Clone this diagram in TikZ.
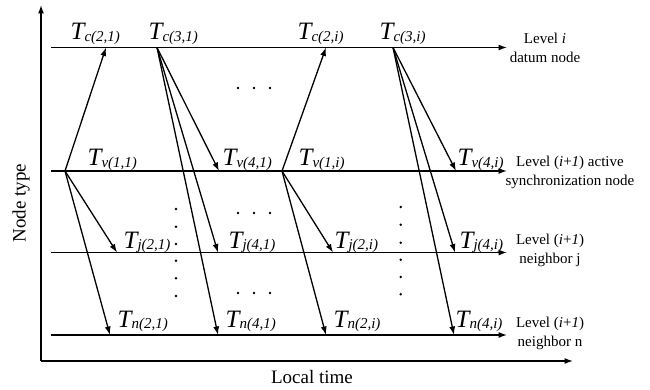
\documentclass[tikz,border=0pt]{standalone}
\usepackage{fontspec}
\setmainfont{Liberation Serif}
\usetikzlibrary{arrows.meta}
\newcommand{\Tlab}[2]{{\fontsize{25}{25}\selectfont\itshape T}\raisebox{-1.5pt}{\fontsize{15}{15}\selectfont\itshape #1(#2)}}
\tikzset{
  tl/.style={->},
  msg/.style={->},
  tlabel/.style={anchor=base west, inner sep=0pt},
  lvl/.style={align=center, inner sep=0pt, font=\fontsize{15}{19}\selectfont},
}
\begin{document}
\begin{tikzpicture}[x=1pt,y=-1pt,line width=1.3pt,>={Latex[length=8.5pt,width=6pt]}]
\useasboundingbox (0,0) rectangle (650,390);
% axes
\coordinate (O) at (41,361);
\coordinate (Ytop) at (41,5);
\coordinate (Xend) at (573,361);
\draw[->] (O) -- (Ytop);
\draw[->] (O) -- (Xend);
\node[rotate=90, font=\fontsize{19}{19}\selectfont] (ylab) at (21,203) {Node type};
\node[font=\fontsize{19}{19}\selectfont] (xlab) at (312,377) {Local time};
% time lines
\coordinate (L1s) at (51,47.5);  \coordinate (L1e) at (507,47.5);
\coordinate (L2s) at (51,171);   \coordinate (L2e) at (507,171);
\coordinate (L3s) at (51,252.5); \coordinate (L3e) at (507,252.5);
\coordinate (L4s) at (51,335);   \coordinate (L4e) at (507,335);
\draw[tl] (L1s) -- (L1e);
\draw[tl] (L2s) -- (L2e);
\draw[tl] (L3s) -- (L3e);
\draw[tl] (L4s) -- (L4e);
% events
\coordinate (c21) at (106,47.5);
\coordinate (c31) at (157,47.5);
\coordinate (v11) at (65,171);
\coordinate (v41) at (219,171);
\coordinate (j21) at (117,252.5);
\coordinate (n21) at (110,335);
\coordinate (j41) at (218,252.5);
\coordinate (n41) at (218,335);
\coordinate (c2i) at (326,47.5);
\coordinate (c3i) at (393,47.5);
\coordinate (v1i) at (282,171);
\coordinate (v4i) at (456,171);
\coordinate (j2i) at (333,252.5);
\coordinate (n2i) at (326,335);
\coordinate (j4i) at (455,252.5);
\coordinate (n4i) at (454,335);
% messages
\draw[msg] (v11) -- (c21);
\draw[msg] (v11) -- (j21);
\draw[msg] (v11) -- (n21);
\draw[msg] (c31) -- (v41);
\draw[msg] (c31) -- (j41);
\draw[msg] (c31) -- (n41);
\draw[msg] (v1i) -- (c2i);
\draw[msg] (v1i) -- (j2i);
\draw[msg] (v1i) -- (n2i);
\draw[msg] (c3i) -- (v4i);
\draw[msg] (c3i) -- (j4i);
\draw[msg] (c3i) -- (n4i);
% labels
\node[tlabel] (tc21) at (70,40) {\Tlab{c}{2,1}};
\node[tlabel] (tc31) at (148,40) {\Tlab{c}{3,1}};
\node[tlabel] (tc2i) at (297,40) {\Tlab{c}{2,i}};
\node[tlabel] (tc3i) at (379,40) {\Tlab{c}{3,i}};
\node[tlabel] (tv11) at (87,166) {\Tlab{v}{1,1}};
\node[tlabel] (tv41) at (222,166) {\Tlab{v}{4,1}};
\node[tlabel] (tv1i) at (298,166) {\Tlab{v}{1,i}};
\node[tlabel] (tv4i) at (457,166) {\Tlab{v}{4,i}};
\node[tlabel] (tj21) at (123,248) {\Tlab{j}{2,1}};
\node[tlabel] (tj41) at (228,248) {\Tlab{j}{4,1}};
\node[tlabel] (tj2i) at (334,248) {\Tlab{j}{2,i}};
\node[tlabel] (tj4i) at (459,248) {\Tlab{j}{4,i}};
\node[tlabel] (tn21) at (117,327) {\Tlab{n}{2,1}};
\node[tlabel] (tn41) at (225,327) {\Tlab{n}{4,1}};
\node[tlabel] (tn2i) at (333,327) {\Tlab{n}{2,i}};
\node[tlabel] (tn4i) at (455,327) {\Tlab{n}{4,i}};
% level names
\node[lvl] (lv1) at (545,47.5) {Level \textit{i}\\datum node};
\node[lvl] (lv2) at (570,172.5) {Level (\textit{i}+\textit{1}) active\\synchronization node};
\node[lvl] (lv3) at (550,250) {Level (\textit{i}+\textit{1})\\neighbor j};
\node[lvl] (lv4) at (550,333.5) {Level (\textit{i}+\textit{1})\\neighbor n};
% dots
\foreach \x in {238,254,270} {
  \foreach \y in {88,213,293} { \fill (\x,\y) circle (1.4pt); }
}
\foreach \y in {209,226.7,244,260.7,278.3,296} { \fill (176,\y) circle (1.4pt); }
\foreach \y in {207,224.7,242.7,259.7,277,294.3} { \fill (400.7,\y) circle (1.4pt); }
\end{tikzpicture}
\end{document}
